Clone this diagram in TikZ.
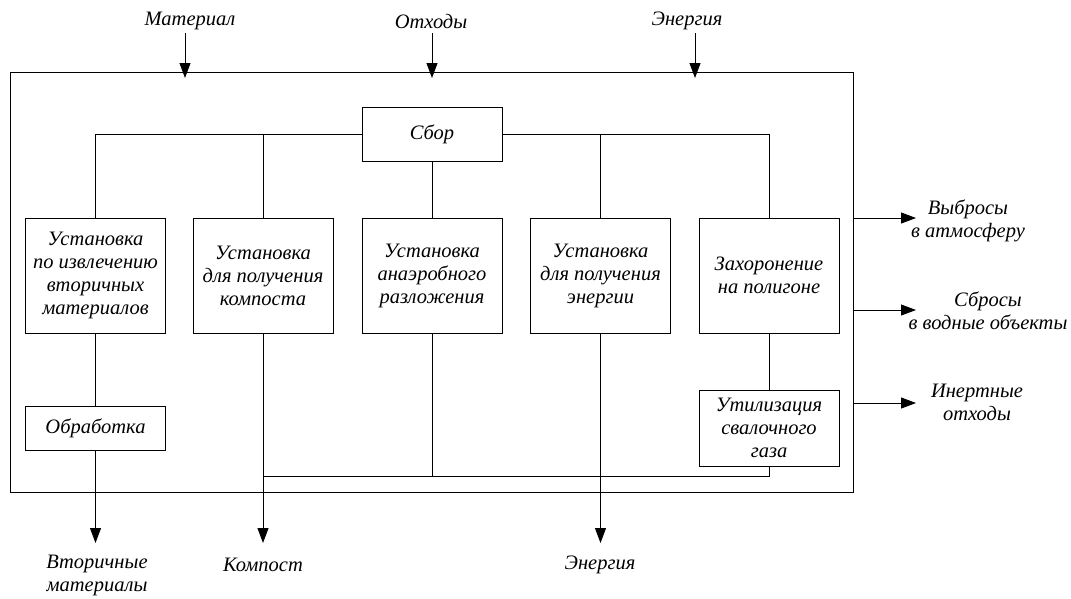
\documentclass[tikz,border=0pt]{standalone}
\usepackage{fontspec}
\setmainfont{Liberation Serif}
\usetikzlibrary{arrows.meta}
\begin{document}
\begin{tikzpicture}[x=1pt,y=-1pt,line width=0.9pt,
  lbl/.style={font=\itshape\fontsize{20.5}{23}\selectfont,align=center,inner sep=0pt},
  unit/.style={draw,lbl,minimum width=140pt,minimum height=115pt,inner sep=2pt},
  flow/.style={-{Triangle[length=15pt,width=11pt]}}]
\useasboundingbox (0,0) rectangle (1071,598);

% system boundary
\node[draw,minimum width=843pt,minimum height=420pt,inner sep=0pt] (frame) at (431.5,282) {};

% inputs
\node[lbl] (inMat) at (190,21) {Материал};
\node[lbl] (inWaste) at (431,21) {Отходы};
\node[lbl] (inEnergy) at (687,21) {Энергия};
\coordinate (mA) at (185,33);  \coordinate (mB) at (185,78);
\coordinate (wA) at (432,33);  \coordinate (wB) at (432,78);
\coordinate (eA) at (695,33);  \coordinate (eB) at (695,78);
\draw[flow] (mA) -- (mB);
\draw[flow] (wA) -- (wB);
\draw[flow] (eA) -- (eB);

% process units
\node[unit,minimum height=54pt] (sbor) at (432,134) {Сбор};
\node[unit] (b1) at (95.5,275.5) {Установка\\по извлечению\\вторичных\\материалов};
\node[unit] (b2) at (263,275.5) {Установка\\для получения\\компоста};
\node[unit] (b3) at (432,275.5) {Установка\\анаэробного\\разложения};
\node[unit] (b4) at (600.5,275.5) {Установка\\для получения\\энергии};
\node[unit] (b5) at (769,275.5) {Захоронение\\на полигоне};
\node[unit,minimum height=44pt] (proc) at (95.5,428) {Обработка};
\node[unit,minimum height=76pt] (gas) at (769,428) {Утилизация\\свалочного\\газа};

% collection bus
\draw (sbor.west) -| (b1.north);
\draw (sbor.east) -| (b5.north);
\draw (b2.north) -- (b2.north |- sbor.west);
\draw (b4.north) -- (b4.north |- sbor.east);
\draw (sbor.south) -- (b3.north);

% lower links
\coordinate (busL) at (263,476);
\draw (b1.south) -- (proc.north);
\draw (b5.south) -- (gas.north);
\draw (gas.south) |- (busL);
\draw (b3.south) -- (b3.south |- busL);

% outputs downward
\coordinate (dSec) at (95.5,543);
\coordinate (dComp) at (263,543);
\coordinate (dEn) at (600.5,543);
\draw[flow] (proc.south) -- (dSec);
\draw[flow] (b2.south) -- (dComp);
\draw[flow] (b4.south) -- (dEn);
\node[lbl] (outSec) at (97,575) {Вторичные\\материалы};
\node[lbl] (outComp) at (263,565) {Компост};
\node[lbl] (outEn) at (600,565) {Энергия};

% outputs to the right
\coordinate (r1) at (916,218);
\coordinate (r2) at (916,310);
\coordinate (r3) at (916,403);
\draw[flow] (frame.east |- r1) -- (r1);
\draw[flow] (frame.east |- r2) -- (r2);
\draw[flow] (frame.east |- r3) -- (r3);
\node[lbl] (outAir) at (968,221) {Выбросы\\в атмосферу};
\node[lbl] (outWater) at (988,311) {Сбросы\\в водные объекты};
\node[lbl] (outInert) at (977,402) {Инертные\\отходы};
\end{tikzpicture}
\end{document}
